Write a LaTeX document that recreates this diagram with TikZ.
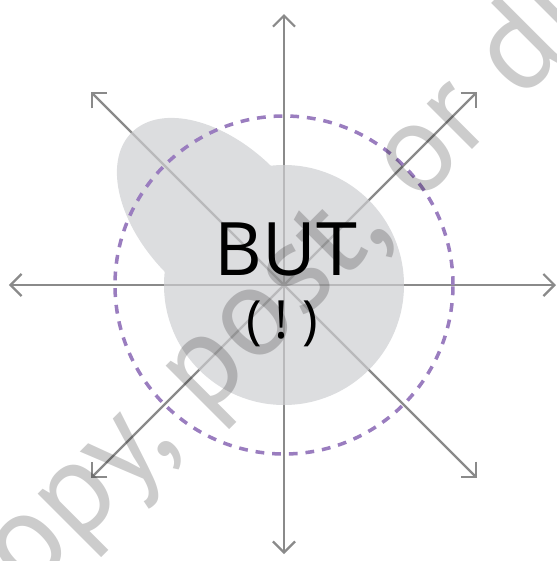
\documentclass[tikz,border=0pt]{standalone}
\usepackage{fontspec}
\setmainfont{Open Sans}
\newfontfamily\stampfont{PT Sans}
\usetikzlibrary{arrows.meta}
\definecolor{axisgray}{HTML}{8A8A8A}
\definecolor{blobgray}{HTML}{CDCED1}
\definecolor{ringpurple}{HTML}{9A7DBF}

\begin{document}
\begin{tikzpicture}[
    axis/.style={axisgray, line width=1.3pt, -{Straight Barb[length=2.2mm, width=4.4mm]}},
    ring/.style={ringpurple, line width=2pt, dash pattern=on 5pt off 4.5pt},
    word/.style={font=\fontsize{42}{46}\selectfont, text=black, inner sep=0pt},
    small/.style={font=\fontsize{30}{33}\selectfont, text=black, inner sep=0pt},
    stamp/.style={font=\stampfont\fontsize{73}{76}\selectfont, text=black, text opacity=0.2, inner sep=0pt},
]
\useasboundingbox (-5.68,-5.52) rectangle (5.46,5.70);
\coordinate (o) at (0,0);

% eight ways out of the middle
\foreach \a/\r in {0/5.44, 45/5.47, 90/5.42, 135/5.47, 180/5.50, 225/5.47, 270/5.38, 315/5.47}{
    \coordinate (tip\a) at (\a:\r);
    \draw[axis] (o) -- (tip\a);
}

% the blob, laid over the axes
\fill[blobgray, fill opacity=0.7] (o) circle (2.4)
    (-1.28,1.28) circle [x radius=2.5, y radius=1.5, rotate=135];

\draw[ring] (o) circle (3.38);

\node[word, anchor=base] (but) at (0.04,0.2) {BUT};
\node[small, anchor=base] (bang) at (-0.04,-1.07) {(\hspace{0.25em}!\hspace{0.25em})};

% stamp over everything
\node[stamp, rotate=45] (wm) at (0.08,-0.08) {opy, post, or di};
\end{tikzpicture}
\end{document}
